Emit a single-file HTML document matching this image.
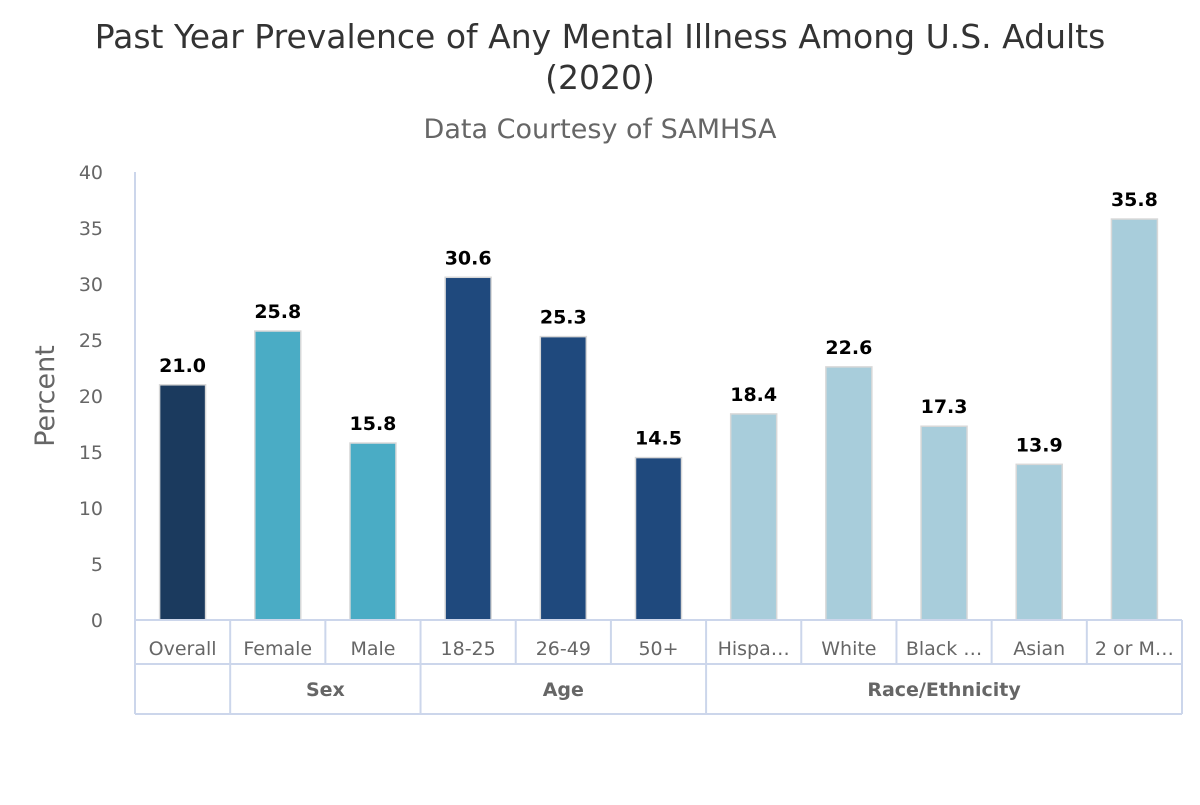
<!DOCTYPE html>
<html><head><meta charset="utf-8"><style>
body{margin:0;background:#fff;}
svg text{font-family:"DejaVu Sans","Liberation Sans",sans-serif;}
</style></head><body>
<svg id="chart" width="1200" height="800" xmlns="http://www.w3.org/2000/svg">
<rect width="1200" height="800" fill="#fff"/>
<text x="600" y="48" text-anchor="middle" font-size="33" fill="#333">Past Year Prevalence of Any Mental Illness Among U.S. Adults</text>
<text x="600" y="89" text-anchor="middle" font-size="33" fill="#333">(2020)</text>
<text x="600" y="138" text-anchor="middle" font-size="27" fill="#666">Data Courtesy of SAMHSA</text>
<text transform="translate(54,396) rotate(-90)" text-anchor="middle" font-size="27" fill="#666">Percent</text>
<g id="yticks"></g><g id="bars"></g><g id="xaxis"></g>
</svg>
<script>
const categories=["Overall","Female","Male","18-25","26-49","50+","Hispa…","White","Black …","Asian","2 or M…"];
const values=[21.0,25.8,15.8,30.6,25.3,14.5,18.4,22.6,17.3,13.9,35.8];
const groupOf=[0,1,1,2,2,2,3,3,3,3,3];
const groupNames=["","Sex","Age","Race/Ethnicity"];
const groupColors=["#1b3a5e","#4aacc5","#1f497d","#a8cddb"];
const yTicks=[0,5,10,15,20,25,30,35,40];
const NS="http://www.w3.org/2000/svg";
const x0=135,x1=1182,y0=620,yTop=172,yMax=40;
const cw=(x1-x0)/categories.length;
const ys=v=>y0-(v/yMax)*(y0-yTop);
const xs=i=>x0+cw*(i+0.5);
function mk(t,a,p){const e=document.createElementNS(NS,t);for(const k in a)e.setAttribute(k,a[k]);(p||document.getElementById('chart')).appendChild(e);return e;}
const yg=document.getElementById('yticks');
yTicks.forEach(t=>{const e=mk('text',{x:103,y:ys(t)+7,'text-anchor':'end','font-size':19,fill:'#666'},yg);e.textContent=t;

});
const bg=document.getElementById('bars');
values.forEach((v,i)=>{const bw=46;
const r=mk('rect',{x:xs(i)-bw/2,y:ys(v),width:bw,height:y0-ys(v),fill:groupColors[groupOf[i]],stroke:'#d8d8d8','stroke-width':1.5},bg);


const l=mk('text',{x:xs(i),y:ys(v)-13,'text-anchor':'middle','font-size':19,'font-weight':'bold',fill:'#000'},bg);l.textContent=v.toFixed(1);

});
const xg=document.getElementById('xaxis');
const lc='#ccd6eb';
mk('line',{x1:x0,y1:yTop,x2:x0,y2:714,stroke:lc,'stroke-width':2},xg);
[620,664,714].forEach(y=>mk('line',{x1:x0,y1:y,x2:x1,y2:y,stroke:lc,'stroke-width':2},xg));
mk('line',{x1:x1,y1:620,x2:x1,y2:714,stroke:lc,'stroke-width':2},xg);
categories.forEach((c,i)=>{
 if(i>0){const gb=groupOf[i]!==groupOf[i-1];mk('line',{x1:x0+cw*i,y1:620,x2:x0+cw*i,y2:gb?714:664,stroke:lc,'stroke-width':2},xg);}
 const t=mk('text',{x:xs(i),y:655,'text-anchor':'middle','font-size':19,fill:'#666'},xg);t.textContent=c;
 
 
});
groupNames.forEach((g,gi)=>{const idx=groupOf.map((v,i)=>v===gi?i:-1).filter(i=>i>=0);
 if(!g)return;const cx=(xs(idx[0])+xs(idx[idx.length-1]))/2;
 const t=mk('text',{x:cx,y:696,'text-anchor':'middle','font-size':19,'font-weight':'bold',fill:'#666'},xg);t.textContent=g;
 
 });
</script>
</body></html>
